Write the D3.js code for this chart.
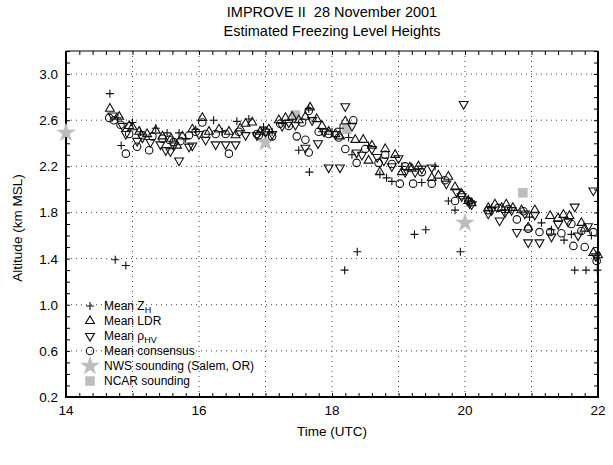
<!DOCTYPE html>
<html>
<head>
<meta charset="utf-8">
<script src="https://cdn.jsdelivr.net/npm/d3@7"></script>
<style>
  body { margin: 0; background: #fff; }
  svg { font-family: "Liberation Sans", Arial, sans-serif; }
</style>
</head>
<body>
<div id="chart"></div>
<script>
// values: [time (UTC h), altitude (km MSL)]
let meanZH = [[14.66,2.83],[14.74,1.39],[14.9,1.34],[14.83,2.38],[14.78,2.62],[15.0,2.58],[15.12,2.5],
  [15.35,2.53],[15.52,2.49],[15.7,2.49],[15.8,2.44],[15.95,2.52],[16.22,2.60],[16.35,2.5],[16.57,2.59],
  [16.75,2.61],[16.97,2.54],[17.1,2.5],[17.25,2.58],[17.5,2.34],[17.65,2.70],[17.66,2.15],[17.85,2.5],
  [18.0,2.5],[18.12,2.53],[18.19,1.30],[18.25,2.45],[18.38,1.46],[18.3,2.3],[18.55,2.38],[18.72,2.13],
  [18.82,2.10],[18.9,2.07],[19.05,2.2],[19.24,1.61],[19.35,2.06],[19.41,1.65],[19.55,2.2],[19.75,1.90],
  [19.85,1.82],[19.93,1.46],[20.05,1.92],[20.4,1.84],[20.6,1.8],[20.97,1.76],[21.15,1.71],[21.3,1.65],
  [21.49,1.56],[21.6,1.61],[21.65,1.30],[21.82,1.30],[21.99,1.30],[21.9,1.6]];

let meanLDR = [[14.66,2.70],[14.8,2.63],[14.95,2.55],[15.0,2.54],[15.1,2.50],[15.22,2.48],[15.35,2.51],
  [15.45,2.46],[15.58,2.44],[15.67,2.38],[15.75,2.46],[15.9,2.52],[16.05,2.62],[16.15,2.5],[16.3,2.52],
  [16.45,2.5],[16.55,2.47],[16.62,2.53],[16.7,2.57],[16.8,2.58],[16.92,2.5],[17.05,2.52],[17.2,2.6],
  [17.3,2.62],[17.4,2.63],[17.5,2.6],[17.6,2.63],[17.67,2.71],[17.77,2.61],[17.85,2.55],[17.95,2.5],
  [18.05,2.48],[18.12,2.46],[18.2,2.59],[18.35,2.43],[18.47,2.43],[18.55,2.25],[18.6,2.38],[18.72,2.15],
  [18.8,2.35],[18.95,2.3],[19.05,2.15],[19.17,2.19],[19.2,2.18],[19.3,2.2],[19.5,2.1],[19.6,2.12],
  [19.75,2.11],[19.85,2.02],[19.95,1.96],[20.05,1.9],[20.1,1.88],[20.35,1.84],[20.45,1.87],[20.55,1.84],
  [20.62,1.87],[20.72,1.84],[20.85,1.82],[20.95,1.67],[21.05,1.82],[21.28,1.77],[21.4,1.75],[21.48,1.78],
  [21.57,1.77],[21.75,1.71],[21.8,1.66],[21.93,1.45],[22.0,1.43]];

let meanRhoHV = [[14.7,2.64],[14.85,2.55],[14.9,2.48],[15.07,2.42],[15.15,2.45],[15.27,2.41],[15.42,2.39],
  [15.5,2.34],[15.57,2.33],[15.62,2.38],[15.7,2.25],[15.85,2.37],[15.9,2.38],[16.0,2.48],[16.1,2.43],
  [16.25,2.39],[16.4,2.39],[16.55,2.39],[16.7,2.47],[16.87,2.47],[17.0,2.5],[17.1,2.48],[17.25,2.55],
  [17.35,2.58],[17.45,2.56],[17.6,2.36],[17.7,2.6],[17.79,2.40],[17.88,2.5],[17.95,2.19],[18.05,2.48],
  [18.12,2.19],[18.2,2.72],[18.3,2.55],[18.37,2.32],[18.45,2.3],[18.6,2.35],[18.68,2.28],[18.78,2.25],
  [18.9,2.2],[19.0,2.27],[19.1,2.15],[19.25,2.15],[19.35,2.18],[19.5,2.19],[19.98,2.74],[19.72,2.05],
  [19.87,1.98],[19.95,1.94],[20.07,1.88],[20.1,1.87],[20.35,1.79],[20.4,1.82],[20.52,1.73],[20.6,1.80],
  [20.7,1.82],[20.78,1.63],[20.9,1.79],[20.95,1.54],[21.05,1.78],[21.12,1.54],[21.3,1.59],[21.4,1.7],
  [21.55,1.72],[21.65,1.85],[21.7,1.6],[21.85,1.68],[21.93,1.99],[21.97,1.42]];

let meanConsensus = [[14.65,2.62],[14.72,2.60],[14.82,2.56],[14.9,2.31],[14.95,2.48],[15.07,2.37],[15.15,2.47],
  [15.25,2.34],[15.3,2.46],[15.45,2.44],[15.55,2.43],[15.62,2.41],[15.72,2.42],[15.85,2.47],[15.95,2.5],
  [16.05,2.58],[16.1,2.48],[16.25,2.48],[16.4,2.48],[16.45,2.31],[16.6,2.5],[16.87,2.48],[16.9,2.47],
  [17.0,2.5],[17.1,2.46],[17.22,2.57],[17.35,2.55],[17.47,2.46],[17.55,2.58],[17.6,2.43],[17.65,2.32],
  [17.65,2.68],[17.8,2.5],[17.95,2.48],[18.1,2.45],[18.2,2.35],[18.32,2.6],[18.37,2.23],[18.5,2.35],
  [18.7,2.23],[18.8,2.3],[18.9,2.22],[19.02,2.05],[19.1,2.2],[19.22,2.05],[19.35,2.15],[19.5,2.05],
  [19.7,2.08],[19.85,1.90],[19.95,1.95],[20.05,1.9],[20.35,1.82],[20.5,1.84],[20.65,1.83],[20.78,1.74],
  [20.88,1.81],[20.95,1.66],[21.12,1.63],[21.28,1.63],[21.45,1.62],[21.6,1.7],[21.63,1.51],[21.75,1.64],
  [21.8,1.50],[21.93,1.63],[21.98,1.38]];

let nwsSounding = [[14.0,2.49],[17.0,2.41],[20.0,1.71]];
let ncarSounding = [[17.45,2.645],[18.22,2.52],[20.87,1.97]];

let xTickLabels = [14, 16, 18, 20, 22];
let yTickLabels = ["0.2", "0.6", "1.0", "1.4", "1.8", "2.2", "2.6", "3.0"];
let legendLabels = ["Mean Z", "Mean LDR", "Mean \u03C1", "Mean consensus", "NWS sounding (Salem, OR)", "NCAR sounding"];

let width = 613, height = 465;
let margin = {left: 66, right: 15, top: 51, bottom: 68};

let svg = d3.select('#chart').append('svg')
    .attr('width', width)
    .attr('height', height);

let x = d3.scaleLinear().domain([14, 22]).range([margin.left, width - margin.right]);
let y = d3.scaleLinear().domain([0.2, 3.2]).range([height - margin.bottom, margin.top]);

// dotted grid
let grid = svg.append('g')
    .attr('stroke', '#444')
    .attr('stroke-width', 1)
    .attr('stroke-dasharray', '1,4');
grid.selectAll('.gx').data(d3.range(15, 22, 1)).enter().append('line')
    .attr('x1', d => x(d)).attr('x2', d => x(d))
    .attr('y1', y(0.2)).attr('y2', y(3.2));
grid.selectAll('.gy').data(yTickLabels.map(Number).slice(1)).enter().append('line')
    .attr('x1', x(14)).attr('x2', x(22))
    .attr('y1', d => y(d)).attr('y2', d => y(d));

// axes with inward ticks
let xMinor = d3.range(14, 22.001, 0.2);
let yMinor = d3.range(0.2, 3.201, 0.1);

svg.append('g')
    .attr('transform', `translate(0,${y(0.2)})`)
    .call(d3.axisBottom(x).tickValues(xMinor).tickSize(-4).tickFormat(''))
    .call(g => g.select('.domain').remove());
svg.append('g')
    .attr('transform', `translate(0,${y(3.2)})`)
    .call(d3.axisTop(x).tickValues(xMinor).tickSize(-4).tickFormat(''))
    .call(g => g.select('.domain').remove());
svg.append('g')
    .attr('transform', `translate(${x(14)},0)`)
    .call(d3.axisLeft(y).tickValues(yMinor).tickSize(-4).tickFormat(''))
    .call(g => g.select('.domain').remove());
svg.append('g')
    .attr('transform', `translate(${x(22)},0)`)
    .call(d3.axisRight(y).tickValues(yMinor).tickSize(-4).tickFormat(''))
    .call(g => g.select('.domain').remove());

// tick labels
svg.append('g').selectAll('text').data(xTickLabels).enter().append('text')
    .attr('x', d => x(d)).attr('y', y(0.2) + 18)
    .attr('text-anchor', 'middle')
    .attr('font-size', 13.5)
    .text(d => d);
svg.append('g').selectAll('text').data(yTickLabels).enter().append('text')
    .attr('x', x(14) - 8).attr('y', d => y(+d) + 5)
    .attr('text-anchor', 'end')
    .attr('font-size', 13.5)
    .text(d => d);

// frame
svg.append('line').attr('x1', x(14)).attr('x2', x(22)).attr('y1', y(3.2)).attr('y2', y(3.2))
    .attr('stroke', '#000').attr('stroke-width', 1);
svg.append('path')
    .attr('d', `M${x(14)},${y(3.2)}V${y(0.2)}H${x(22)}V${y(3.2)}`)
    .attr('fill', 'none').attr('stroke', '#000').attr('stroke-width', 2);

// titles
let cx = (x(14) + x(22)) / 2;
svg.append('text').attr('x', cx).attr('y', 17)
    .attr('text-anchor', 'middle').attr('font-size', 14.5)
    .text('IMPROVE II  28 November 2001').style('white-space', 'pre');
svg.append('text').attr('x', cx).attr('y', 36)
    .attr('text-anchor', 'middle').attr('font-size', 14.5)
    .text('Estimated Freezing Level Heights');
svg.append('text').attr('x', cx).attr('y', 436)
    .attr('text-anchor', 'middle').attr('font-size', 13.5)
    .text('Time (UTC)');
svg.append('text')
    .attr('transform', `translate(22,${(y(0.2) + y(3.2)) / 2 + 4}) rotate(-90)`)
    .attr('text-anchor', 'middle').attr('font-size', 13.5)
    .text('Altitude (km MSL)');

// marker shapes
let triUp = d3.symbol().type(d3.symbolTriangle).size(34)();
let circ = d3.symbol().type(d3.symbolCircle).size(44)();
let star = d3.symbol().type(d3.symbolStar).size(120)();
let square = d3.symbol().type(d3.symbolSquare).size(90)();
let plus = 'M-4,0H4M0,-4V4';

function drawMarks(data, path, opts) {
    svg.append('g')
        .selectAll('path')
        .data(data)
        .enter().append('path')
        .attr('d', path)
        .attr('transform', d => `translate(${x(d[0])},${y(d[1])})` + (opts.rotate ? ' rotate(180)' : ''))
        .attr('fill', opts.fill || 'none')
        .attr('stroke', opts.stroke || 'none')
        .attr('stroke-width', 1.1);
}

drawMarks(nwsSounding, star, {fill: '#bdbdbd'});
drawMarks(ncarSounding, square, {fill: '#bdbdbd'});
drawMarks(meanConsensus, circ, {stroke: '#111'});
drawMarks(meanLDR, triUp, {stroke: '#111'});
drawMarks(meanRhoHV, triUp, {stroke: '#111', rotate: true});
drawMarks(meanZH, plus, {stroke: '#111'});

// legend
let legendTop = 306, legendStep = 15;
let legendPaths = [plus, triUp, triUp, circ, star, square];
let lg = svg.append('g');
legendPaths.forEach((p, i) => {
    let ly = legendTop + i * legendStep;
    lg.append('path')
        .attr('d', p)
        .attr('transform', `translate(90,${ly})` + (i === 2 ? ' rotate(180)' : ''))
        .attr('fill', i >= 4 ? '#bdbdbd' : 'none')
        .attr('stroke', i >= 4 ? 'none' : '#111')
        .attr('stroke-width', 1.1);
    let t = lg.append('text')
        .attr('x', 104).attr('y', ly + 4)
        .attr('font-size', 12)
        .text(legendLabels[i]);
    if (i === 0) t.append('tspan').attr('dy', 2.5).attr('font-size', 9).text('H');
    if (i === 2) t.append('tspan').attr('dy', 2.5).attr('font-size', 9).text('HV');
});
</script>
</body>
</html>
